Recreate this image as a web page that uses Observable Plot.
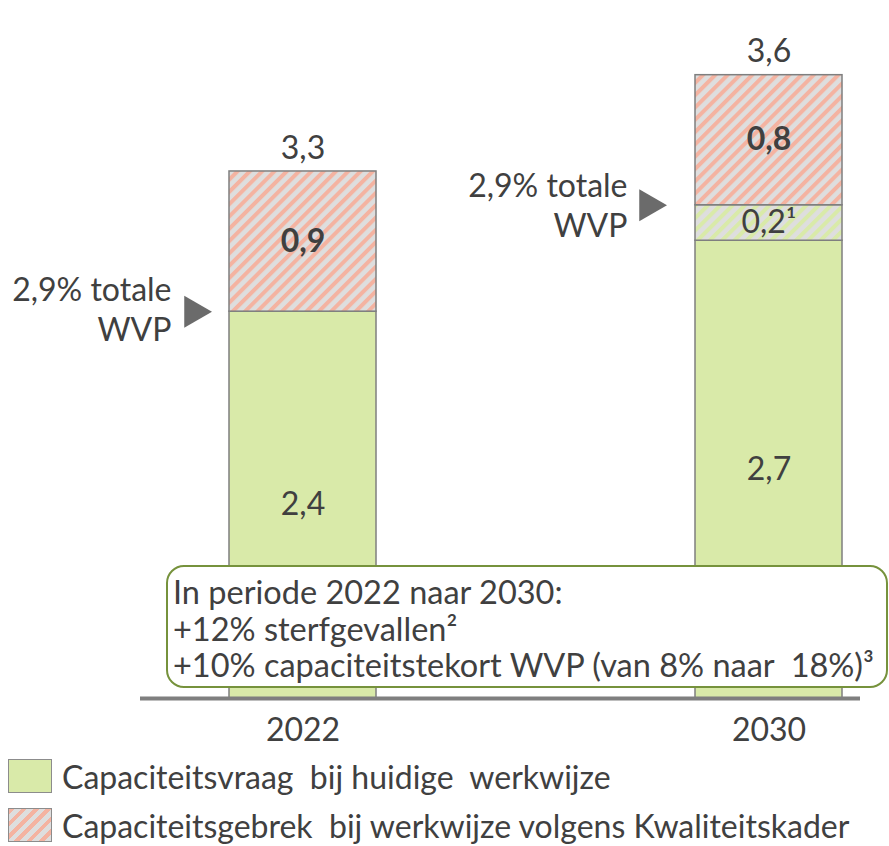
<!DOCTYPE html>
<html>
<head>
<meta charset="utf-8">
<script src="https://cdn.jsdelivr.net/npm/d3@7"></script>
<script src="https://cdn.jsdelivr.net/npm/@observablehq/plot@0.6"></script>
<style>
  body { margin: 0; background: white; font-family: Lato, "Open Sans", sans-serif; color: #404040; }
  #wrap { position: relative; width: 889px; }
  #callout {
    position: absolute; left: 166px; top: 565px; width: 722px; height: 123px;
    box-sizing: border-box; border: 2px solid #76923c; border-radius: 18px; background: white;
    font-size: 32.5px; line-height: 36.5px; padding: 7px 0 0 5px; white-space: pre; color: #404040;
  }
  #legend { padding-top: 7px; }
  .row { display: flex; align-items: center; height: 34px; margin-bottom: 15px; }
  .sw { width: 44px; height: 34px; margin-left: 8px; box-sizing: border-box; border: 1.5px solid #8c8c8c; flex: none; }
  .lab { margin-left: 10px; font-size: 32px; white-space: pre; }
</style>
</head>
<body>
<div id="wrap"></div>
<script>
// ---- data ----
const years = ["2022", "2030"];
const series = ["demand", "gap", "shortage"];
const demand = [2.29, 2.71];        // green bar heights
const gap = [0, 0.21];              // hatched green (up to 2,9% WVP)
const shortage = [0.83, 0.77];      // hatched red
const demandText = ["2,4", "2,7"];
const gapText = ["", "0,2¹"];
const shortageText = ["0,9", "0,8"];
const totalText = ["3,3", "3,6"];
const wvpText = "2,9% totale\nWVP";
const legendText = [
  "Capaciteitsvraag  bij huidige  werkwijze",
  "Capaciteitsgebrek  bij werkwijze volgens Kwaliteitskader"
];
const calloutLines = [
  "In periode 2022 naar 2030:",
  "+12% sterfgevallen²",
  "+10% capaciteitstekort WVP (van 8% naar  18%)³"
];

// ---- derived tables ----
const rows = [];
years.forEach((year, i) => {
  const vals = [demand[i], gap[i], shortage[i]];
  const labs = [demandText[i], gapText[i], shortageText[i]];
  let acc = 0;
  series.forEach((s, j) => {
    if (vals[j] > 0) rows.push({year, series: s, y1: acc, y2: acc + vals[j], label: labs[j]});
    acc += vals[j];
  });
});
const totals = years.map((year, i) => ({year, total: demand[i] + gap[i] + shortage[i], label: totalText[i]}));
const wvp = years.map((year, i) => ({year, level: demand[i] + gap[i], label: wvpText}));

const textColor = "#404040";
const FS = 32;
const svg = Plot.plot({
  width: 889,
  height: 752,
  marginLeft: 140,
  marginRight: 29,
  marginTop: 0,
  marginBottom: 54,
  style: {fontFamily: "Lato", fontSize: FS + "px", color: textColor, background: "white", overflow: "visible"},
  x: {domain: years, range: [228, 842], paddingInner: 0.685, paddingOuter: 0, label: null, tickSize: 0, tickPadding: 20},
  y: {domain: [0, 3.7], range: [698, 73], axis: null},
  color: {domain: series, range: ["#d9eaa9", "url(#hatchGreen)", "url(#hatchRed)"]},
  marks: [
    Plot.barY(rows, {x: "year", y1: "y1", y2: "y2", fill: "series", stroke: "#7f7f7f", strokeWidth: 1.5}),
    Plot.text(rows.filter(d => d.series !== "shortage"), {x: "year", y: d => (d.y1 + d.y2) / 2, text: "label", fill: textColor, fontSize: FS}),
    Plot.text(rows.filter(d => d.series === "shortage"), {x: "year", y: d => (d.y1 + d.y2) / 2, text: "label", fill: textColor, fontSize: FS, fontWeight: "bold"}),
    Plot.text(totals, {x: "year", y: "total", text: "label", fill: textColor, fontSize: FS, dy: -23}),
    Plot.ruleY(wvp.filter(d => d.year === "2022"), {x: "year", y: "level", stroke: "#7f7f7f", strokeWidth: 2, strokeDasharray: "10,3", insetLeft: -6, insetRight: -7}),
    Plot.ruleY(wvp.filter(d => d.year === "2030"), {x: "year", y: "level", stroke: "#7f7f7f", strokeWidth: 2, strokeDasharray: "12,2", insetLeft: -16, insetRight: -16}),
    Plot.dot(wvp.filter(d => d.year === "2022"), {x: "year", y: "level", symbol: "triangle", rotate: 90, r: 11.9, fill: "#6b6b6b", dx: -109.5}),
    Plot.dot(wvp.filter(d => d.year === "2030"), {x: "year", y: "level", symbol: "triangle", rotate: 90, r: 11.9, fill: "#6b6b6b", dx: -120.5}),
    Plot.text(wvp.filter(d => d.year === "2022"), {x: "year", y: "level", text: "label", textAnchor: "end", lineHeight: 1.25, fontSize: FS, fill: textColor, dx: -131.5, dy: -3}),
    Plot.text(wvp.filter(d => d.year === "2030"), {x: "year", y: "level", text: "label", textAnchor: "end", lineHeight: 1.25, fontSize: FS, fill: textColor, dx: -141.5, dy: -1}),
    Plot.ruleY([0], {stroke: "#7f7f7f", strokeWidth: 4})
  ]
});

d3.select(svg).insert("defs", ":first-child").html(`
  <pattern id="hatchRed" patternUnits="userSpaceOnUse" width="8.7" height="8.7" patternTransform="rotate(45)">
    <rect width="8.7" height="8.7" fill="#dedede"></rect>
    <rect width="4" height="8.7" fill="#f4b3a1"></rect>
  </pattern>
  <pattern id="hatchGreen" patternUnits="userSpaceOnUse" width="8.7" height="8.7" patternTransform="rotate(45)">
    <rect width="8.7" height="8.7" fill="#dedede"></rect>
    <rect width="4" height="8.7" fill="#d9eaa9"></rect>
  </pattern>`);

const wrap = document.getElementById("wrap");
wrap.appendChild(svg);

const callout = document.createElement("div");
callout.id = "callout";
callout.innerHTML = calloutLines.map(t => `<div>${t}</div>`).join("");
wrap.appendChild(callout);

const legend = document.createElement("div");
legend.id = "legend";
const swatchStyles = [
  "background:#d9eaa9",
  "background:repeating-linear-gradient(135deg,#f4b3a1 0 4px,#dedede 4px 8.7px)"
];
legend.innerHTML = legendText.map((t, i) =>
  `<div class="row"><div class="sw" style="${swatchStyles[i]}"></div><div class="lab">${t}</div></div>`
).join("");
wrap.appendChild(legend);
</script>
</body>
</html>
